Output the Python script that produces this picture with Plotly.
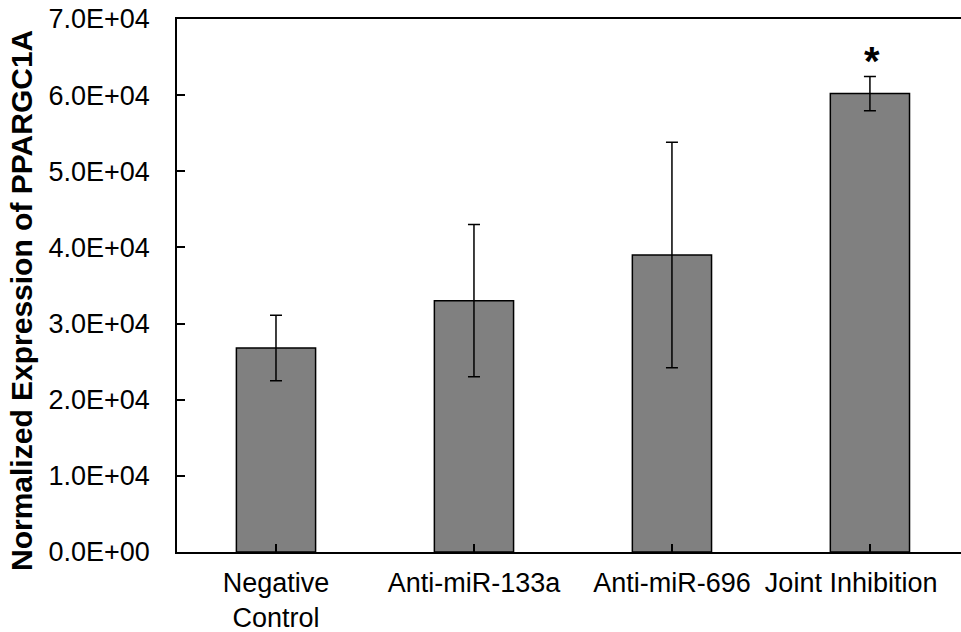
import plotly.graph_objects as go

categories = ["Negative<br>Control", "Anti-miR-133a", "Anti-miR-696", "Joint Inhibition&nbsp;&nbsp;&nbsp;&nbsp;&nbsp;"]
values = [26800, 33000, 39000, 60200]
errors = [4300, 10000, 14800, 2250]
significance = ["", "", "", "*"]
y_tick_vals = [0, 10000, 20000, 30000, 40000, 50000, 60000, 70000]
y_tick_text = ["0.0E+00", "1.0E+04", "2.0E+04", "3.0E+04", "4.0E+04", "5.0E+04", "6.0E+04", "7.0E+04"]
y_title = "Normalized Expression of PPARGC1A"

FONT = "Liberation Sans, Arial, sans-serif"

fig = go.Figure()
fig.add_trace(go.Bar(
    x=list(range(len(categories))),
    y=values,
    marker=dict(color="#808080", line=dict(color="black", width=1.5)),
    error_y=dict(type="data", array=errors, visible=True, color="black", thickness=1.5, width=6),
))

for i, s in enumerate(significance):
    if s:
        fig.add_annotation(x=i, y=values[i] + errors[i], text="<b>" + s + "</b>",
                           showarrow=False, yanchor="bottom", yshift=-9, xshift=2,
                           font=dict(family=FONT, size=40, color="black"))

fig.add_annotation(xref="paper", yref="paper", x=-156 / 784, y=(552 - 301) / 533,
                   xanchor="center", yanchor="middle", textangle=-90, showarrow=False,
                   text="<b>" + y_title + "</b>",
                   font=dict(family=FONT, size=30, color="black"))

fig.update_layout(
    width=961, height=632,
    margin=dict(l=177, r=0, t=19, b=80, autoexpand=False),
    plot_bgcolor="white", paper_bgcolor="white",
    bargap=0.6, showlegend=False,
    font=dict(family=FONT, size=27, color="black"),
)
fig.update_xaxes(
    tickmode="array", tickvals=list(range(len(categories))), ticktext=categories,
    range=[-0.5, 3.46], showline=True, linecolor="black", linewidth=1.5,
    mirror=True, ticks="inside", tickson="boundaries", ticklen=8, tickcolor="black",
    tickwidth=1.5, showgrid=False, zeroline=False, ticklabelstandoff=6,
    automargin=False, ticklabeloverflow="allow",
    tickfont=dict(family=FONT, size=27, color="black"),
)
fig.update_yaxes(
    range=[0, 70000], tickmode="array", tickvals=y_tick_vals, ticktext=y_tick_text,
    showline=True, linecolor="black", linewidth=1.5, ticks="inside", ticklen=8,
    tickcolor="black", tickwidth=1.5, showgrid=False, zeroline=False,
    ticklabelstandoff=20, automargin=False, ticklabeloverflow="allow",
    tickfont=dict(family=FONT, size=27, color="black"),
)

fig.write_html("out.html")
